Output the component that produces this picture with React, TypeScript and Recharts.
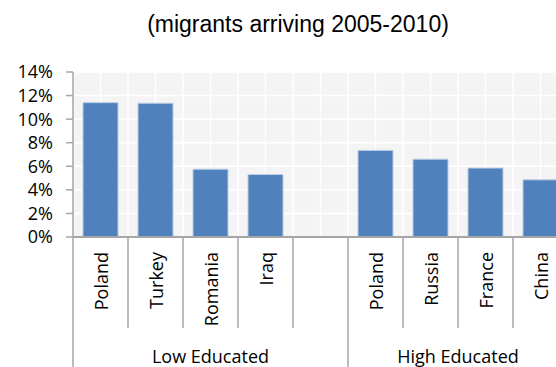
import { Bar, BarChart, CartesianGrid, XAxis, YAxis } from "recharts";

const countries = ["Poland", "Turkey", "Romania", "Iraq", "", "Poland", "Russia", "France", "China"];
const shares = [11.4, 11.35, 5.75, 5.3, null, 7.35, 6.6, 5.85, 4.85];
const groups = ["Low Educated", "High Educated"];
const yTicks = [0, 2, 4, 6, 8, 10, 12, 14];

const data = countries.map((country, i) => ({ country, share: shares[i] }));

const FONT = "'Open Sans', sans-serif";
const AXIS = "#a6a6a6";

function CategoryTick(props: any) {
  const { x, y, payload, index } = props;
  const off = payload?.offset || 27.5;
  const groupStart = index === 0 || index === 5;
  return (
    <g>
      <line x1={x - off} x2={x - off} y1={y} y2={groupStart ? y + 140 : y + 91} stroke={AXIS} strokeWidth={1.5} />
      {index === countries.length - 1 && (
        <line x1={x + off} x2={x + off} y1={y} y2={y + 140} stroke={AXIS} strokeWidth={1.5} />
      )}
      {payload.value && (
        <text
          x={x}
          y={y + 15}
          transform={`rotate(-90, ${x}, ${y + 15})`}
          textAnchor="end"
          dominantBaseline="central"
          fontFamily={FONT}
          fontSize={18}
          fill="#000"
        >
          {payload.value}
        </text>
      )}
      {index === 2 && (
        <text x={x} y={y + 119} textAnchor="middle" dominantBaseline="central" fontFamily={FONT} fontSize={18} fill="#000">
          {groups[0]}
        </text>
      )}
      {index === 6 && (
        <text x={x + off} y={y + 119} textAnchor="middle" dominantBaseline="central" fontFamily={FONT} fontSize={18} fill="#000">
          {groups[1]}
        </text>
      )}
    </g>
  );
}

export default function App() {
  return (
    <div style={{ position: "absolute", left: 0, top: 0, width: 556, height: 367, overflow: "hidden", background: "#fff" }}>
      <div
        style={{
          position: "absolute",
          left: 0,
          top: 11,
          width: 596,
          textAlign: "center",
          fontFamily: "'Liberation Sans', Arial, sans-serif",
          fontSize: 23,
          lineHeight: "26px",
          color: "#000",
        }}
      >
        (migrants arriving 2005-2010)
      </div>
      <BarChart
        width={600}
        height={367}
        data={data}
        margin={{ top: 72, right: 32, bottom: 0, left: 0 }}
        barCategoryGap={10}
      >
        <CartesianGrid
          fill="#f4f4f4"
          stroke="#ffffff"
          strokeWidth={1.5}
          verticalCoordinatesGenerator={({ offset }: any) =>
            Array.from({ length: countries.length * 2 + 1 }, (_, k) => offset.left + (offset.width * k) / (countries.length * 2))
          }
        />
        <XAxis
          dataKey="country"
          height={130}
          tickSize={0}
          tickMargin={0}
          tickLine={false}
          interval={0}
          axisLine={{ stroke: AXIS, strokeWidth: 2 }}
          tick={<CategoryTick />}
        />
        <YAxis
          width={73}
          domain={[0, 14]}
          ticks={yTicks}
          interval={0}
          tickFormatter={(v: number) => `${v}%`}
          tickSize={7}
          tickMargin={13}
          axisLine={{ stroke: AXIS, strokeWidth: 1.5 }}
          tickLine={{ stroke: AXIS, strokeWidth: 1.5 }}
          tick={{ fill: "#000", fontSize: 18, fontFamily: FONT }}
        />
        <Bar dataKey="share" fill="#4f81bd" stroke="#b9cde5" strokeWidth={1} isAnimationActive={false} />
      </BarChart>
    </div>
  );
}
